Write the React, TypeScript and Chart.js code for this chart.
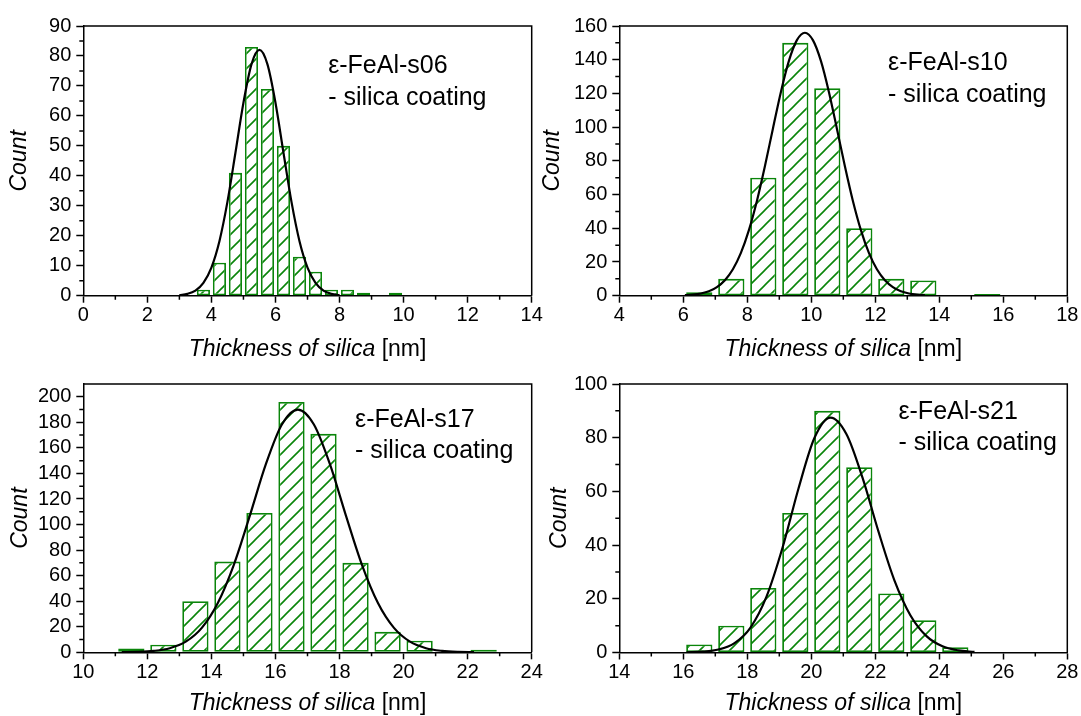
import React, { useEffect, useRef } from 'react';
import { Chart, registerables } from 'chart.js';

Chart.register(...registerables);

// ---------- Data: ε-FeAl-s06 ----------
const binCenters06 = [3.75, 4.25, 4.75, 5.25, 5.75, 6.25, 6.75, 7.25, 7.75, 8.25, 8.75, 9.25, 9.75];
const counts06 = [2, 11, 41, 83, 69, 50, 13, 8, 2, 2, 1, 0, 1];
const fitX06 = [3.0, 3.25, 3.5, 3.75, 4.0, 4.25, 4.5, 4.75, 5.0, 5.25, 5.5, 5.75, 6.0, 6.25, 6.5, 6.75, 7.0, 7.25, 7.5, 7.75, 8.0];
const fitY06 = [0.2, 0.6, 1.7, 4.3, 9.4, 18.2, 31.3, 47.7, 64.4, 77.2, 82, 77.2, 64.4, 47.7, 31.3, 18.2, 9.4, 4.3, 1.7, 0.6, 0.2];
const xTicks06 = [0, 2, 4, 6, 8, 10, 12, 14];
const xMinor06 = [1, 3, 5, 7, 9, 11, 13];
const yTicks06 = [0, 10, 20, 30, 40, 50, 60, 70, 80, 90];
const yMinor06 = [5, 15, 25, 35, 45, 55, 65, 75, 85];

// ---------- Data: ε-FeAl-s10 ----------
const binCenters10 = [6.5, 7.5, 8.5, 9.5, 10.5, 11.5, 12.5, 13.5, 14.5, 15.5];
const counts10 = [2, 10, 70, 150, 123, 40, 10, 9, 0, 1];
const fitX10 = [6.05, 6.3, 6.55, 6.8, 7.05, 7.3, 7.55, 7.8, 8.05, 8.3, 8.55, 8.8, 9.05, 9.3, 9.55, 9.8, 10.05, 10.3, 10.55, 10.8, 11.05, 11.3, 11.55, 11.8, 12.05, 12.3, 12.55, 12.8, 13.05, 13.3, 13.55];
const fitY10 = [0.3, 0.6, 1.3, 2.6, 5.1, 9.2, 15.7, 25.4, 38.9, 56.2, 76.8, 99.1, 120.9, 139.3, 151.6, 156, 151.6, 139.3, 120.9, 99.1, 76.8, 56.2, 38.9, 25.4, 15.7, 9.2, 5.1, 2.6, 1.3, 0.6, 0.3];
const xTicks10 = [4, 6, 8, 10, 12, 14, 16, 18];
const xMinor10 = [5, 7, 9, 11, 13, 15, 17];
const yTicks10 = [0, 20, 40, 60, 80, 100, 120, 140, 160];
const yMinor10 = [10, 30, 50, 70, 90, 110, 130, 150];

// ---------- Data: ε-FeAl-s17 ----------
const binCenters17 = [11.5, 12.5, 13.5, 14.5, 15.5, 16.5, 17.5, 18.5, 19.5, 20.5, 21.5, 22.5];
const counts17 = [3, 6, 40, 71, 109, 196, 171, 70, 16, 9, 0, 2];
const fitX17 = [11.2, 11.7, 12.2, 12.7, 13.2, 13.7, 14.2, 14.7, 15.2, 15.7, 16.2, 16.7, 17.2, 17.7, 18.2, 18.7, 19.2, 19.7, 20.2, 20.7, 21.2, 21.7, 22.2];
const fitY17 = [0.1, 0.3, 1.1, 3.2, 8.3, 19.1, 38.6, 68.5, 107.0, 147.2, 178.3, 190, 178.3, 147.2, 107.0, 68.5, 38.6, 19.1, 8.3, 3.2, 1.1, 0.3, 0.1];
const xTicks17 = [10, 12, 14, 16, 18, 20, 22, 24];
const xMinor17 = [11, 13, 15, 17, 19, 21, 23];
const yTicks17 = [0, 20, 40, 60, 80, 100, 120, 140, 160, 180, 200];
const yMinor17 = [10, 30, 50, 70, 90, 110, 130, 150, 170, 190];

// ---------- Data: ε-FeAl-s21 ----------
const binCenters21 = [16.5, 17.5, 18.5, 19.5, 20.5, 21.5, 22.5, 23.5, 24.5];
const counts21 = [3, 10, 24, 52, 90, 69, 22, 12, 2];
const fitX21 = [16.1, 16.6, 17.1, 17.6, 18.1, 18.6, 19.1, 19.6, 20.1, 20.6, 21.1, 21.6, 22.1, 22.6, 23.1, 23.6, 24.1, 24.6, 25.1];
const fitY21 = [0.1, 0.3, 1.1, 3.5, 9.3, 20.8, 39.0, 61.1, 80.0, 87.5, 81.3, 65.1, 45.0, 26.8, 13.8, 6.1, 2.3, 0.8, 0.2];
const xTicks21 = [14, 16, 18, 20, 22, 24, 26, 28];
const xMinor21 = [15, 17, 19, 21, 23, 25, 27];
const yTicks21 = [0, 20, 40, 60, 80, 100];
const yMinor21 = [10, 30, 50, 70, 90];

// ---------- Text ----------
const sampleNames = ['ε-FeAl-s06', 'ε-FeAl-s10', 'ε-FeAl-s17', 'ε-FeAl-s21'];
const coatingLabel = '- silica coating';
const xTitleItalic = 'Thickness of silica';
const xTitleUnit = '[nm]';
const yTitle = 'Count';

const GREEN = '#0a850a';
const FONT = '"Liberation Sans", Arial, Helvetica, sans-serif';
const W = 1081;
const H = 716;

type PanelCfg = {
  name: string;
  centers: number[];
  counts: number[];
  fitX: number[];
  fitY: number[];
  xTicks: number[];
  xMinor: number[];
  yTicks: number[];
  yMinor: number[];
  xMin: number;
  xMax: number;
  yMax: number;
  left: number;
  right: number;
  top: number;
  bottom: number;
  titleX: number;
  xTitleOffset: number;
  noteFx: number;
  noteY1: number;
  noteY2: number;
};

const panels: PanelCfg[] = [
  {
    name: sampleNames[0], centers: binCenters06, counts: counts06, fitX: fitX06, fitY: fitY06,
    xTicks: xTicks06, xMinor: xMinor06, yTicks: yTicks06, yMinor: yMinor06,
    xMin: 0, xMax: 14, yMax: 90,
    left: 83.3, right: 531.7, top: 26, bottom: 295.7, titleX: 20, xTitleOffset: 60.5,
    noteFx: 0.546, noteY1: 46.7, noteY2: 78.5,
  },
  {
    name: sampleNames[1], centers: binCenters10, counts: counts10, fitX: fitX10, fitY: fitY10,
    xTicks: xTicks10, xMinor: xMinor10, yTicks: yTicks10, yMinor: yMinor10,
    xMin: 4, xMax: 18, yMax: 160,
    left: 619.3, right: 1067.3, top: 26, bottom: 295.7, titleX: 552.7, xTitleOffset: 60.5,
    noteFx: 0.6, noteY1: 44, noteY2: 75.7,
  },
  {
    name: sampleNames[2], centers: binCenters17, counts: counts17, fitX: fitX17, fitY: fitY17,
    xTicks: xTicks17, xMinor: xMinor17, yTicks: yTicks17, yMinor: yMinor17,
    xMin: 10, xMax: 24, yMax: 210,
    left: 83.3, right: 531.7, top: 384, bottom: 652.3, titleX: 20.7, xTitleOffset: 57.5,
    noteFx: 0.606, noteY1: 42.7, noteY2: 74.3,
  },
  {
    name: sampleNames[3], centers: binCenters21, counts: counts21, fitX: fitX21, fitY: fitY21,
    xTicks: xTicks21, xMinor: xMinor21, yTicks: yTicks21, yMinor: yMinor21,
    xMin: 14, xMax: 28, yMax: 100,
    left: 619.3, right: 1067.3, top: 384, bottom: 652.5, titleX: 560, xTitleOffset: 57.5,
    noteFx: 0.623, noteY1: 35.3, noteY2: 66,
  },
];

const X_AXIS_H = 30;
const TITLE_SIZE = 23;

function Panel({ cfg }: { cfg: PanelCfg }) {
  const ref = useRef<HTMLCanvasElement>(null);

  useEffect(() => {
    const canvas = ref.current!;
    const ctx = canvas.getContext('2d')!;

    // hatch pattern
    const tile = document.createElement('canvas');
    const T = 15;
    tile.width = T;
    tile.height = T;
    const tc = tile.getContext('2d')!;
    tc.fillStyle = '#ffffff';
    tc.fillRect(0, 0, T, T);
    tc.strokeStyle = GREEN;
    tc.lineWidth = 1.6;
    tc.beginPath();
    tc.moveTo(-2, T + 2);
    tc.lineTo(T + 2, -2);
    tc.moveTo(-2, 2);
    tc.lineTo(2, -2);
    tc.moveTo(T - 2, T + 2);
    tc.lineTo(T + 2, T - 2);
    tc.stroke();
    const pattern = ctx.createPattern(tile, 'repeat');

    const axisLeft = cfg.titleX - (TITLE_SIZE * 1.2) / 2;
    const yAxisW = cfg.left - axisLeft;

    const gridOpts = {
      display: true,
      drawOnChartArea: false,
      drawTicks: true,
      tickLength: 7,
      tickWidth: 1.5,
      tickColor: '#000',
      offset: false,
    };
    const borderOpts = { display: true, color: '#000', width: 1.5 };

    const decorPlugin = {
      id: 'decor' + cfg.name,
      afterDraw(chart: any) {
        const c = chart.ctx as CanvasRenderingContext2D;
        const { left, right, top, bottom } = chart.chartArea;
        const xs = chart.scales.x;
        const ys = chart.scales.y;
        c.save();
        c.strokeStyle = '#000';
        c.lineWidth = 1.5;
        c.beginPath();
        c.moveTo(left, top);
        c.lineTo(right, top);
        c.lineTo(right, bottom);
        c.stroke();
        c.beginPath();
        cfg.xMinor.forEach((v) => {
          const p = xs.getPixelForValue(v);
          c.moveTo(p, bottom);
          c.lineTo(p, bottom + 4);
        });
        cfg.yMinor.forEach((v) => {
          const p = ys.getPixelForValue(v);
          c.moveTo(left, p);
          c.lineTo(left - 4, p);
        });
        c.stroke();

        c.fillStyle = '#000';
        c.textBaseline = 'alphabetic';
        c.textAlign = 'left';
        const fIt = `italic ${TITLE_SIZE}px ${FONT}`;
        const fRe = `${TITLE_SIZE}px ${FONT}`;
        c.font = fIt;
        const w1 = c.measureText(xTitleItalic + ' ').width;
        c.font = fRe;
        const w2 = c.measureText(xTitleUnit).width;
        const sx = (left + right) / 2 - (w1 + w2) / 2;
        const by = bottom + cfg.xTitleOffset;
        c.font = fIt;
        c.fillText(xTitleItalic + ' ', sx, by);
        c.font = fRe;
        c.fillText(xTitleUnit, sx + w1, by);

        c.font = `25px ${FONT}`;
        const tx = left + cfg.noteFx * (right - left);
        c.fillText(cfg.name, tx, top + cfg.noteY1);
        c.fillText(coatingLabel, tx, top + cfg.noteY2);
        c.restore();
      },
    };

    const chart = new Chart(canvas, {
      type: 'bar',
      data: {
        datasets: [
          {
            type: 'line',
            data: cfg.fitX.map((x, i) => ({ x, y: cfg.fitY[i] })),
            borderColor: '#000',
            borderWidth: 2.2,
            pointRadius: 0,
            cubicInterpolationMode: 'monotone',
            fill: false,
            order: 0,
          } as any,
          {
            type: 'bar',
            data: cfg.centers.map((x, i) => ({ x, y: cfg.counts[i] })),
            backgroundColor: pattern as any,
            borderColor: GREEN,
            borderWidth: 1.8,
            borderSkipped: false,
            barPercentage: 0.82,
            categoryPercentage: 1,
            order: 1,
          } as any,
        ],
      },
      options: {
        responsive: false,
        maintainAspectRatio: false,
        animation: false,
        devicePixelRatio: 1,
        events: [],
        layout: {
          padding: {
            left: axisLeft,
            top: cfg.top,
            right: W - cfg.right,
            bottom: H - cfg.bottom - X_AXIS_H,
          },
        },
        plugins: {
          legend: { display: false },
          tooltip: { enabled: false },
        },
        scales: {
          x: {
            type: 'linear',
            min: cfg.xMin,
            max: cfg.xMax,
            offset: false,
            grid: gridOpts,
            border: borderOpts,
            ticks: {
              color: '#000',
              font: { size: 20, family: FONT },
              padding: 1,
              maxRotation: 0,
              autoSkip: false,
            },
            afterBuildTicks: (s: any) => {
              s.ticks = cfg.xTicks.map((v) => ({ value: v }));
            },
            afterFit: (s: any) => {
              s.height = X_AXIS_H;
              s.paddingLeft = 0;
              s.paddingRight = 0;
            },
          },
          y: {
            type: 'linear',
            min: 0,
            max: cfg.yMax,
            grid: gridOpts,
            border: borderOpts,
            ticks: {
              color: '#000',
              font: { size: 20, family: FONT },
              padding: 5,
              autoSkip: false,
            },
            title: {
              display: true,
              text: yTitle,
              color: '#000',
              font: { size: TITLE_SIZE, style: 'italic', family: FONT },
              padding: 0,
            },
            afterBuildTicks: (s: any) => {
              s.ticks = cfg.yTicks.map((v) => ({ value: v }));
            },
            afterFit: (s: any) => {
              s.width = yAxisW;
              s.paddingTop = 0;
              s.paddingBottom = 0;
            },
          },
        },
      } as any,
      plugins: [decorPlugin],
    });

    return () => chart.destroy();
  }, [cfg]);

  return (
    <canvas
      ref={ref}
      width={W}
      height={H}
      style={{ position: 'absolute', left: 0, top: 0, width: W, height: H }}
    />
  );
}

export default function App() {
  return (
    <div
      style={{
        position: 'absolute',
        left: 0,
        top: 0,
        width: W,
        height: H,
        background: '#fff',
        overflow: 'hidden',
      }}
    >
      {panels.map((p) => (
        <Panel key={p.name} cfg={p} />
      ))}
    </div>
  );
}
